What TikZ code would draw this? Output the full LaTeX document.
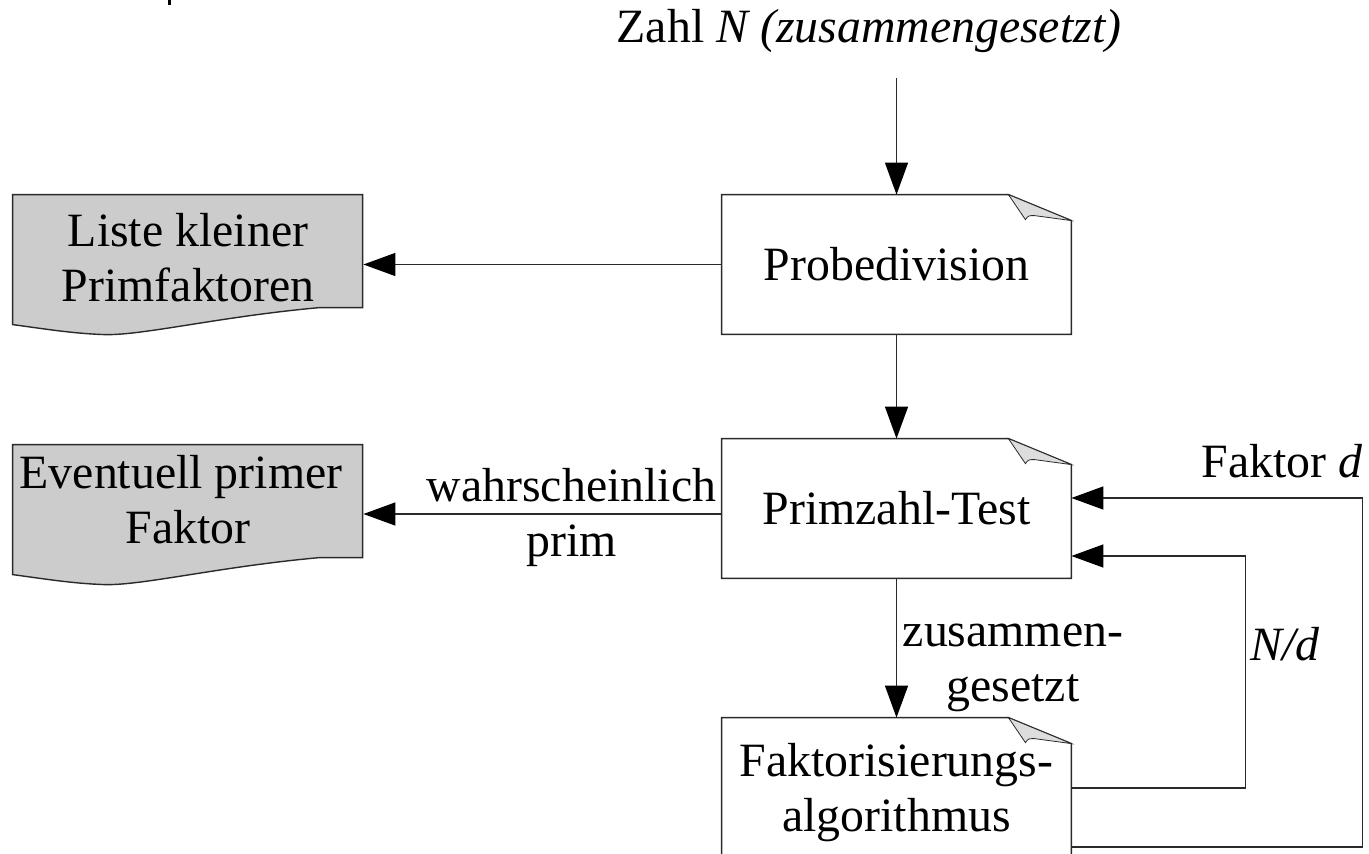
\documentclass[tikz,border=0pt]{standalone}
\usepackage{fontspec}
\setmainfont{Liberation Serif}
\usetikzlibrary{arrows.meta,calc,backgrounds}
\definecolor{docgray}{HTML}{CCCCCC}
\definecolor{foldgray}{HTML}{DDDDDD}
\definecolor{linegray}{HTML}{2A2A2A}
\newcommand{\ls}{\rule[-5.16pt]{0pt}{26.46pt}}
\newcommand{\procoutline}[1]{%
  \draw[boxline] (#1.north west) -- ($(#1.north east)+(-63,0)$) -- ($(#1.north east)+(0,26)$) -- (#1.south east) -- (#1.south west) -- cycle;
  \filldraw[fill=foldgray, draw=linegray, line width=0.4pt] ($(#1.north east)+(-63,0)$) -- ($(#1.north east)+(-46,25)$) .. controls ($(#1.north east)+(-43,21)$) .. ($(#1.north east)+(-37,21)$) -- ($(#1.north east)+(0,26)$) -- cycle;}
\newcommand{\docoutline}[1]{%
  \begin{scope}[shift={(#1.north west)}]
    \filldraw[fill=docgray, draw=linegray, line width=0.7pt] (0,0) -- (350,0) -- (350,113) -- (307,113) .. controls (207,122) and (130,141) .. (92,140) .. controls (60,139) and (30,134) .. (0,130) -- cycle;
  \end{scope}}
\begin{document}
\begin{tikzpicture}[x=0.5pt,y=-0.5pt,
  txt/.style={font=\fontsize{23.9}{26.45}\selectfont, inner sep=0pt, align=center},
  procbox/.style={txt, minimum width=174.5pt, minimum height=69.5pt},
  docbox/.style={txt, minimum width=175pt},
  boxline/.style={draw=linegray, line width=0.7pt},
  conn/.style={draw=linegray, line width=0.7pt, -{Triangle[length=16pt,width=11.5pt,color=black]}}]
\useasboundingbox (0,0) rectangle (1369,854);
\clip (0,0) rectangle (1369,854);
\fill[black] (168,0) rectangle (171,5);
% process boxes
\node[procbox] (probe) at (896.5,264.5) {\ls Probedivision};
\node[procbox] (prim) at (896.5,508.5) {\ls Primzahl-Test};
\node[procbox] (fakt) at (896.5,787.5) {\ls Faktorisierungs-\\\ls algorithmus};
\procoutline{probe}
\procoutline{prim}
\procoutline{fakt}
% document boxes
\node[docbox, minimum height=63.3pt] (liste) at (188,258.3) {\ls Liste kleiner\\\ls Primfaktoren};
\node[docbox, minimum height=55.3pt] (evt) at (188,500.3) {\ls Eventuell primer\kern7pt\\\ls Faktor};
\begin{pgfonlayer}{background}
  \docoutline{liste}
  \docoutline{evt}
\end{pgfonlayer}
% labels
\node[txt, anchor=base] (topl) at (869,43) {Zahl \textit{N (zusammengesetzt)}};
\node[txt] (wp) at (571.5,513.3) {\ls wahrscheinlich\\\ls prim};
\node[txt] (zl) at (1013,658.3) {\ls zusammen-\\\ls gesetzt};
\node[txt, anchor=base east] (fd) at (1363,478) {Faktor \textit{d}};
\node[txt, anchor=base west] (nd) at (1250,660) {\textit{N/d}};
% connectors
\coordinate (in) at (896.5,78);
\draw[conn] (in) -- (probe.north);
\draw[conn] (probe.west) -- (probe.west -| liste.east);
\draw[conn] (probe.south) -- (prim.north);
\coordinate (pw) at ($(prim.west)+(0,5.5)$);
\draw[conn] (pw) -- (pw -| evt.east);
\draw[conn] (prim.south) -- (fakt.north);
\draw[conn] ($(fakt.east)+(0,59.5)$) -- ++(291,0) |- ($(prim.east)+(0,-10.5)$);
\draw[conn] ($(fakt.east)+(0,0.5)$) -- ++(174,0) |- ($(prim.east)+(0,47.5)$);
\end{tikzpicture}
\end{document}
